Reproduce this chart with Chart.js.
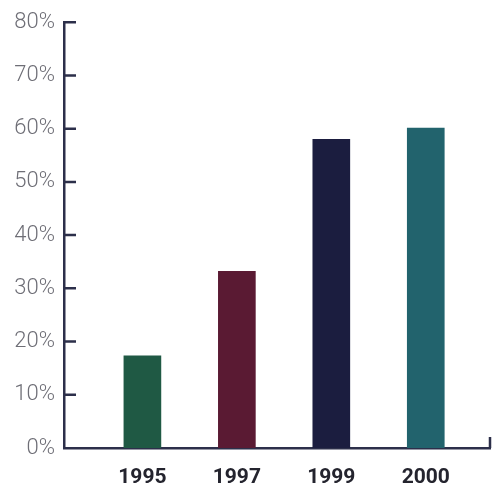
<!DOCTYPE html>
<html>
<head>
<meta charset="utf-8">
<script src="https://cdn.jsdelivr.net/npm/chart.js@4.4.1/dist/chart.umd.min.js"></script>
<style>
  html, body { margin: 0; padding: 0; background: #fff; }
  #wrap { width: 496px; height: 483px; }
</style>
</head>
<body>
<div id="wrap"><canvas id="shareChart"></canvas></div>
<script>
const years = ['1995', '1997', '1999', '2000'];
const shares = [17.3, 33.2, 58.0, 60.1];
const barColors = ['#1f5944', '#5a1a33', '#1b1d3f', '#22636d'];
const yTicks = [0, 10, 20, 30, 40, 50, 60, 70, 80];

const axisColor = '#2c2f4a';

// short tick marks pointing into the plot, plus the end cap on the x axis
const innerTicks = {
    id: 'innerTicks',
    afterDraw(chart) {
        const ctx = chart.ctx;
        const y = chart.scales.y;
        const area = chart.chartArea;
        ctx.save();
        ctx.strokeStyle = axisColor;
        ctx.lineWidth = 2.5;
        ctx.beginPath();
        yTicks.forEach(function (v) {
            if (v === 0) return;
            const py = y.getPixelForValue(v);
            ctx.moveTo(area.left, py);
            ctx.lineTo(area.left + 12, py);
        });
        ctx.moveTo(area.right, area.bottom);
        ctx.lineTo(area.right, area.bottom - 11);
        ctx.stroke();
        ctx.restore();
    }
};

new Chart(document.getElementById('shareChart'), {
    type: 'bar',
    data: {
        datasets: [{
            data: shares.map(function (v, i) { return { x: i, y: v }; }),
            backgroundColor: barColors,
            barThickness: 37
        }]
    },
    options: {
        responsive: true,
        maintainAspectRatio: false,
        animation: false,
        layout: { padding: { top: 22, right: 6, left: 0, bottom: 0 } },
        plugins: {
            legend: { display: false },
            tooltip: { enabled: false }
        },
        scales: {
            x: {
                type: 'linear',
                offset: false,
                min: -0.83,
                max: 3.68,
                afterBuildTicks: function (s) {
                    s.ticks = years.map(function (_, i) { return { value: i }; });
                },
                afterFit: function (s) { s.height = 35; },
                grid: { display: false, drawTicks: false, offset: false },
                border: { display: true, color: axisColor, width: 2.5 },
                ticks: {
                    padding: 17,
                    color: '#24242e',
                    font: { family: 'Roboto, sans-serif', size: 21, weight: 'bold' },
                    callback: function (v) { return years[v]; }
                }
            },
            y: {
                min: 0,
                max: 80,
                afterBuildTicks: function (s) {
                    s.ticks = yTicks.map(function (v) { return { value: v }; });
                },
                afterFit: function (s) { s.width = 64; },
                grid: { display: false, drawTicks: false },
                border: { display: true, color: axisColor, width: 2.5 },
                ticks: {
                    padding: 9,
                    color: '#6e6e76',
                    font: { family: 'Roboto, sans-serif', size: 22, weight: 300 },
                    callback: function (v) { return v + '%'; }
                }
            }
        }
    },
    plugins: [innerTicks]
});
</script>
</body>
</html>
